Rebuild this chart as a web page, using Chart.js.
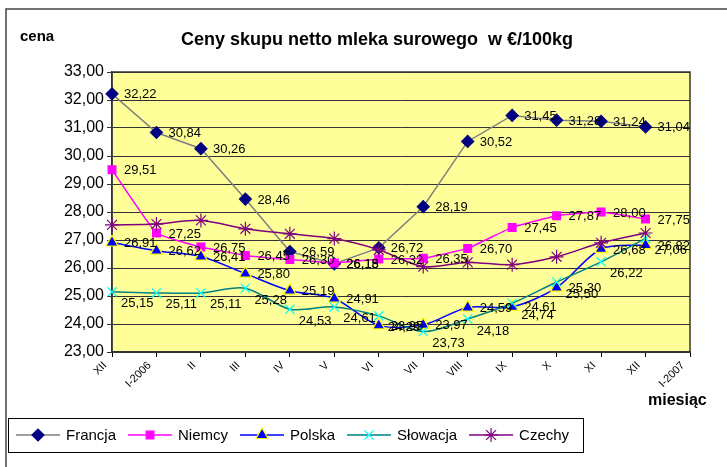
<!DOCTYPE html>
<html>
<head>
<meta charset="utf-8">
<script src="https://cdn.jsdelivr.net/npm/chart.js@4.4.1/dist/chart.umd.min.js"></script>
<style>
html, body { margin: 0; padding: 0; background: #fff; }
</style>
</head>
<body>
<canvas id="milkchart" width="727" height="467"></canvas>
<script>
// months on the x axis (last one has no data)
const months = ['XII', 'I-2006', 'II', 'III', 'IV', 'V', 'VI', 'VII', 'VIII', 'IX', 'X', 'XI', 'XII', 'I-2007'];
const yTicks = [23, 24, 25, 26, 27, 28, 29, 30, 31, 32, 33];

// prices, EUR per 100 kg
const francja  = [32.22, 30.84, 30.26, 28.46, 26.59, 26.15, 26.72, 28.19, 30.52, 31.45, 31.28, 31.24, 31.04];
const niemcy   = [29.51, 27.25, 26.75, 26.45, 26.30, 26.18, 26.32, 26.35, 26.70, 27.45, 27.87, 28.00, 27.75];
const polska   = [26.91, 26.62, 26.41, 25.80, 25.19, 24.91, 23.95, 23.97, 24.59, 24.61, 25.30, 26.68, 26.82];
const slowacja = [25.15, 25.11, 25.11, 25.28, 24.53, 24.61, 24.29, 23.73, 24.18, 24.74, 25.50, 26.22, 27.06];
const czechy   = [27.54, 27.57, 27.70, 27.40, 27.22, 27.05, 26.65, 26.05, 26.20, 26.12, 26.40, 26.90, 27.25];

const FONT = '"Liberation Sans", Arial, sans-serif';

function fmt(v) {
    return v.toFixed(2).replace('.', ',');
}

function marker(ctx, ds, x, y) {
    if (Chart.helpers && Chart.helpers.drawPoint) {
        ctx.fillStyle = ds.pointBackgroundColor;
        ctx.strokeStyle = ds.pointBorderColor;
        ctx.lineWidth = ds.pointBorderWidth;
        Chart.helpers.drawPoint(ctx, {
            pointStyle: ds.pointStyle,
            radius: ds.pointRadius,
            borderWidth: ds.pointBorderWidth,
            rotation: 0
        }, x, y);
    }
}

const chartDecor = {
    id: 'chartDecor',
    beforeDraw(chart) {
        const c = chart.ctx, a = chart.chartArea;
        c.save();
        c.fillStyle = '#fff';
        c.fillRect(0, 0, chart.width, chart.height);
        c.fillStyle = '#FFFF99';
        c.fillRect(a.left, a.top, a.right - a.left, a.bottom - a.top);
        c.restore();
    },
    beforeDatasetsDraw(chart) {
        const c = chart.ctx, a = chart.chartArea;
        c.save();
        c.strokeStyle = '#333';
        c.lineWidth = 1.5;
        c.strokeRect(a.left, a.top, a.right - a.left, a.bottom - a.top);
        c.restore();
    },
    afterDatasetsDraw(chart) {
        // value labels next to points
        const c = chart.ctx;
        c.save();
        c.font = '13px ' + FONT;
        c.fillStyle = '#000';
        c.textAlign = 'left';
        c.textBaseline = 'middle';
        chart.data.datasets.forEach((ds, i) => {
            if (!ds.labelSide) return;
            const meta = chart.getDatasetMeta(i);
            meta.data.forEach((pt, j) => {
                const v = ds.data[j];
                if (v == null) return;
                if (ds.labelSide === 'below') {
                    c.fillText(fmt(v), pt.x + 9, pt.y + 12);
                } else {
                    c.fillText(fmt(v), pt.x + 12, pt.y + 1);
                }
            });
        });
        c.restore();
    },
    afterDraw(chart) {
        const c = chart.ctx;
        c.save();
        // outer frame (top and left only visible)
        c.strokeStyle = '#444';
        c.lineWidth = 1.5;
        c.beginPath();
        c.moveTo(6, chart.height);
        c.lineTo(6, 9);
        c.lineTo(chart.width, 9);
        c.stroke();

        c.fillStyle = '#000';
        c.textBaseline = 'middle';
        c.font = 'bold 18px ' + FONT;
        c.textAlign = 'center';
        c.fillText('Ceny skupu netto mleka surowego  w €/100kg', 377, 40);
        c.textAlign = 'left';
        c.font = 'bold 15px ' + FONT;
        c.fillText('cena', 20, 37);
        c.font = 'bold 16px ' + FONT;
        c.fillText('miesiąc', 648, 401);

        // legend box
        c.strokeStyle = '#000';
        c.lineWidth = 1;
        c.strokeRect(8.5, 418.5, 575, 34);
        c.font = '15px ' + FONT;
        let x = 16;
        const y = 435;
        chart.data.datasets.forEach(ds => {
            c.strokeStyle = ds.borderColor;
            c.lineWidth = 1.5;
            c.beginPath();
            c.moveTo(x, y);
            c.lineTo(x + 44, y);
            c.stroke();
            marker(c, ds, x + 22, y);
            c.fillStyle = '#000';
            c.fillText(ds.label, x + 50, y + 1);
            x += 50 + c.measureText(ds.label).width + 12;
        });
        c.restore();
    }
};

function series(label, data, color, style, fill, border, radius, side, order, tension) {
    return {
        label: label,
        data: data,
        borderColor: color,
        borderWidth: 1.5,
        pointStyle: style,
        pointRadius: radius,
        pointHoverRadius: radius,
        pointBackgroundColor: fill,
        pointBorderColor: border,
        pointBorderWidth: 1.2,
        tension: tension,
        fill: false,
        labelSide: side,
        order: order
    };
}

new Chart(document.getElementById('milkchart').getContext('2d'), {
    type: 'line',
    data: {
        labels: months,
        datasets: [
            series('Francja', francja, '#808080', 'rectRot', '#000080', '#000080', 6, 'right', 5, 0),
            series('Niemcy', niemcy, '#FF00FF', 'rect', '#FF00FF', '#FF00FF', 5.5, 'right', 4, 0.1),
            series('Polska', polska, '#0000FF', 'triangle', '#0000FF', '#FFFF00', 7, 'right', 3, 0.3),
            series('Słowacja', slowacja, '#008080', 'crossRot', '#00FFFF', '#00FFFF', 6.5, 'below', 2, 0.3),
            series('Czechy', czechy, '#800080', 'star', '#800080', '#800080', 7, null, 1, 0.3)
        ]
    },
    plugins: [chartDecor],
    options: {
        responsive: false,
        animation: false,
        layout: { padding: { left: 0, right: 37, top: 72, bottom: 0 } },
        plugins: {
            legend: { display: false },
            title: { display: false },
            tooltip: { enabled: false }
        },
        scales: {
            x: {
                offset: false,
                grid: { drawOnChartArea: false, drawTicks: true, tickLength: 5, color: '#000' },
                border: { color: '#333', width: 1.5 },
                ticks: {
                    autoSkip: false,
                    maxRotation: 45,
                    minRotation: 45,
                    padding: 2,
                    labelOffset: -7,
                    color: '#000',
                    font: { family: FONT, size: 11 }
                },
                afterFit(scale) { scale.height = 115; }
            },
            y: {
                min: yTicks[0],
                max: yTicks[yTicks.length - 1],
                afterBuildTicks(scale) { scale.ticks = yTicks.map(v => ({ value: v })); },
                grid: { color: '#333', lineWidth: 1, tickLength: 5 },
                border: { color: '#333', width: 1.5 },
                ticks: {
                    color: '#000',
                    padding: 3,
                    font: { family: FONT, size: 16 },
                    callback: v => fmt(v)
                },
                afterFit(scale) { scale.width = 112; }
            }
        }
    }
});
</script>
</body>
</html>
